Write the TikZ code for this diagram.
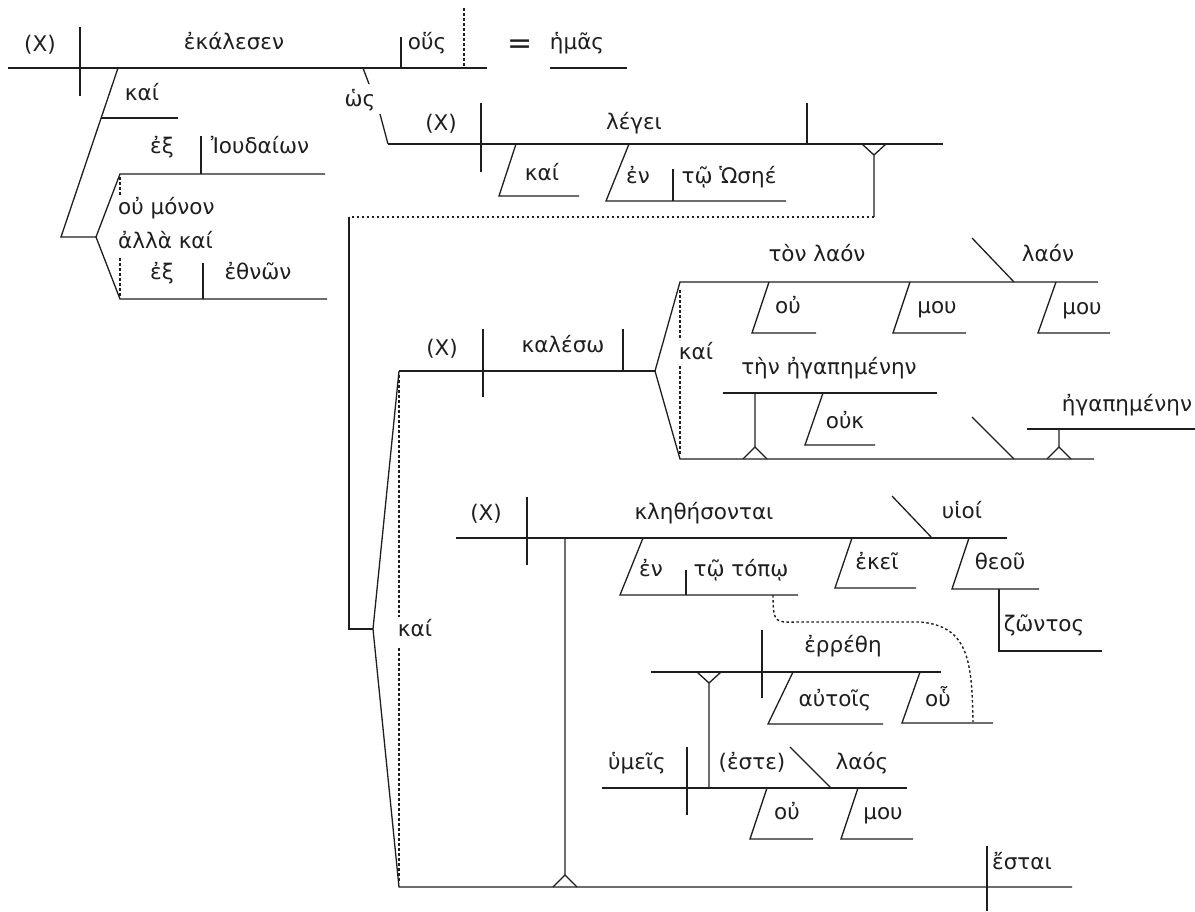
\documentclass[tikz,border=0pt]{standalone}
\usepackage{fontspec}
\setmainfont{DejaVu Sans}
\definecolor{sdink}{HTML}{1E1E1E}
\tikzset{
  sd text/.style={font=\fontsize{21.5}{25}\selectfont, text=sdink},
  sd word/.style={anchor=base, inner sep=0pt},
  sd left/.style={anchor=base west, inner sep=0pt},
  sd line/.style={draw=sdink, line width=1.3pt, line cap=butt},
  sd dots/.style={draw=sdink, line width=1.4pt, dash pattern=on 2.5pt off 2.5pt}
}

\begin{document}
\begin{tikzpicture}[sd text, x=1pt, y=-1pt]
  \useasboundingbox (0,0) rectangle (1195,911);

  % ekalesen
  \draw[sd line] (8,68) -- (487,68);
  \draw[sd line] (80,27) -- (80,96);
  \draw[sd line] (401,37) -- (401,68);
  \draw[sd dots] (464,8) -- (464,68);
  \draw[sd line] (550,68) -- (627,68);
  \node[sd word] (subjA) at (40,51) {(X)};
  \node[sd word] (verbA) at (234,49) {ἐκάλεσεν};
  \node[sd word] (objA) at (427,49) {οὕς};
  \node[sd word, font=\fontsize{30}{32}\selectfont] (eqA) at (520,53) {=};
  \node[sd word] (appA) at (577,49) {ἡμᾶς};

  \draw[sd line] (118,68) -- (61,237) -- (96,237);
  \draw[sd line] (101,118) -- (178,118);
  \node[sd word] (kaiA) at (142,100) {καί};
  \draw[sd line] (325,174) -- (120,174) -- (96,237) -- (120,299) -- (327,299);
  \draw[sd line] (201,136) -- (201,174);
  \draw[sd line] (203,263) -- (203,299);
  \draw[sd dots] (120,177) -- (120,196);
  \draw[sd dots] (120,258) -- (120,296);
  \node[sd word] (exA) at (162,153) {ἐξ};
  \node[sd word] (ioudA) at (260,153) {Ἰουδαίων};
  \node[sd left] (ouA) at (118,214) {οὐ μόνον};
  \node[sd left] (allaA) at (118,248) {ἀλλὰ καί};
  \node[sd word] (exB) at (162,279) {ἐξ};
  \node[sd word] (ethnB) at (258,279) {ἐθνῶν};

  % hos legei
  \draw[sd line] (363,68) -- (369,84);
  \draw[sd line] (380,114) -- (388,144);
  \node[sd word] (hosB) at (360,106) {ὡς};
  \draw[sd line] (388,144) -- (943,144);
  \draw[sd line] (481,103) -- (481,172);
  \draw[sd line] (807,103) -- (807,144);
  \draw[sd line] (673,169) -- (673,201);
  \node[sd word] (subjB) at (441,130) {(X)};
  \node[sd word] (verbB) at (634,129) {λέγει};
  \node[sd word] (kaiB) at (542,180) {καί};
  \node[sd word] (enB) at (638,183) {ἐν};
  \node[sd word] (hoseeB) at (729,183) {τῷ Ὡσηέ};

  % slanted modifiers
  \foreach \xa/\ya/\xb/\yb/\xe in {516/144/499/196/579, 629/144/606/201/786,
      769/282/752/333/816, 910/282/893/333/966, 1056/282/1038/333/1110,
      823/393/805/445/875, 643/538/620/595/798, 852/538/835/588/916,
      969/538/952/589/1039, 793/672/768/724/883, 920/672/902/723/993,
      767/788/750/839/813, 858/788/841/839/913}
    \draw[sd line] (\xa,\ya) -- (\xb,\yb) -- (\xe,\yb);

  % clause stands (Y) and pedestals
  \foreach \x/\y/\b in {874/144/217, 709/672/788}
    \draw[sd line] (\x-12,\y) -- (\x,\y+11) -- (\x+12,\y) (\x,\y+11) -- (\x,\b);
  \foreach \x/\y/\t in {565/887/538, 755/459/393, 1059/459/429}
    \draw[sd line] (\x,\t) -- (\x,\y-12) (\x-12,\y) -- (\x,\y-12) -- (\x+12,\y);

  \draw[sd dots] (874,217) -- (349,217);
  \draw[sd line] (349,217) -- (349,629) -- (373,629);

  % kai fork: kaleso / klethesontai
  \draw[sd line] (399,371) -- (373,629) -- (399,887) -- (1072,887);
  \draw[sd dots] (399,375) -- (399,617);
  \draw[sd dots] (399,648) -- (399,883);
  \node[sd word] (kaiD) at (415,636) {καί};

  \draw[sd line] (399,371) -- (655,371);
  \draw[sd line] (483,329) -- (483,397);
  \draw[sd line] (623,329) -- (623,371);
  \node[sd word] (subjC) at (442,355) {(X)};
  \node[sd word] (verbC) at (563,352) {καλέσω};
  \draw[sd line] (1098,282) -- (680,282) -- (655,371) -- (680,459) -- (1094,459);
  \draw[sd dots] (680,290) -- (680,340);
  \draw[sd dots] (680,366) -- (680,455);
  \node[sd word] (kaiC) at (696,359) {καί};
  \draw[sd line] (972,238) -- (1014,282);
  \draw[sd line] (972,417) -- (1014,459);
  \draw[sd line] (723,393) -- (937,393);
  \draw[sd line] (1027,429) -- (1195,429);
  \node[sd word] (tonC) at (817,261) {τὸν λαόν};
  \node[sd word] (ouC) at (788,313) {οὐ};
  \node[sd word] (mouC) at (937,313) {μου};
  \node[sd word] (laonC) at (1048,261) {λαόν};
  \node[sd word] (mouD) at (1082,314) {μου};
  \node[sd word] (tenC) at (829,374) {τὴν ἠγαπημένην};
  \node[sd word] (oukC) at (845,428) {οὐκ};
  \node[sd word] (egapC) at (1127,411) {ἠγαπημένην};

  \draw[sd line] (456,538) -- (1007,538);
  \draw[sd line] (527,497) -- (527,565);
  \draw[sd line] (686,570) -- (686,595);
  \draw[sd line] (892,496) -- (932,538);
  \draw[sd line] (999,589) -- (999,651) -- (1102,651);
  \node[sd word] (subjD) at (486,520) {(X)};
  \node[sd word] (verbD) at (704,519) {κληθήσονται};
  \node[sd word] (huioiD) at (962,518) {υἱοί};
  \node[sd word] (enD) at (651,576) {ἐν};
  \node[sd word] (topoD) at (741,576) {τῷ τόπῳ};
  \node[sd word] (ekeiD) at (877,569) {ἐκεῖ};
  \node[sd word] (theouD) at (1000,569) {θεοῦ};
  \node[sd word] (zontosD) at (1044,631) {ζῶντος};

  % relative clause
  \draw[sd dots] (773,595) .. controls (773,625) and (776,622) .. (800,622)
    -- (920,622) .. controls (968,626) and (972,660) .. (973,722);
  \draw[sd line] (651,672) -- (941,672);
  \draw[sd line] (762,630) -- (762,698);
  \node[sd word] (verbE) at (843,652) {ἐρρέθη};
  \node[sd word] (autoisE) at (835,706) {αὐτοῖς};
  \node[sd word] (houE) at (938,706) {οὗ};

  \draw[sd line] (602,788) -- (907,788);
  \draw[sd line] (687,747) -- (687,815);
  \draw[sd line] (790,747) -- (831,788);
  \node[sd word] (subjF) at (637,769) {ὑμεῖς};
  \node[sd word] (esteF) at (752,769) {(ἐστε)};
  \node[sd word] (laosF) at (862,769) {λαός};
  \node[sd word] (ouF) at (787,819) {οὐ};
  \node[sd word] (mouF) at (883,819) {μου};

  \draw[sd line] (987,846) -- (987,911);
  \node[sd word] (estaiG) at (1022,869) {ἔσται};
\end{tikzpicture}
\end{document}
